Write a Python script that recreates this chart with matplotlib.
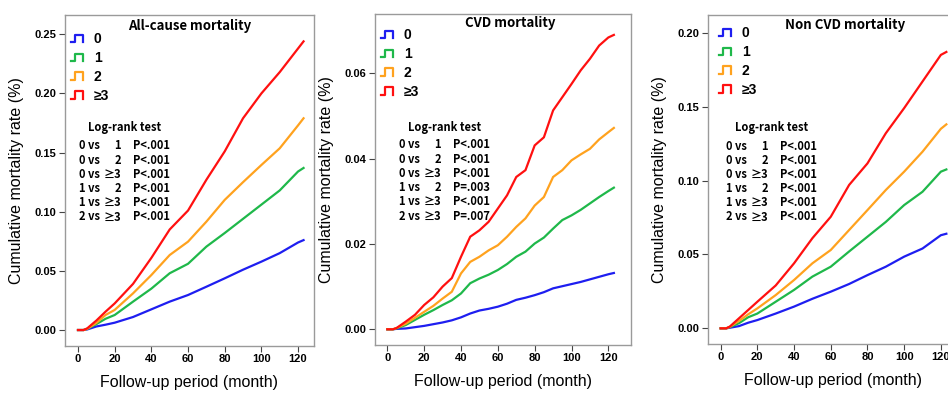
import matplotlib
matplotlib.use("Agg")
import matplotlib.pyplot as plt
from matplotlib.lines import Line2D
from matplotlib.legend_handler import HandlerBase

# ─── data (cumulative mortality by group) ────────────────────────────────────
months = [0, 3, 5, 10, 15, 20, 30, 40, 50, 60, 70, 80, 90, 100, 110, 120, 123]
months_cvd = [0, 3, 5, 10, 15, 20, 25, 30, 35, 40, 45, 50, 55, 60, 65, 70,
              75, 80, 85, 90, 95, 100, 105, 110, 115, 120, 123]

allcause_0 = [0, 0, 0.0005, 0.003, 0.0045, 0.0062, 0.011, 0.0175, 0.024, 0.0296,
              0.0366, 0.0437, 0.051, 0.0578, 0.065, 0.074, 0.076]
allcause_1 = [0, 0, 0.001, 0.005, 0.0095, 0.0127, 0.024, 0.035, 0.048, 0.056,
              0.0705, 0.082, 0.094, 0.106, 0.118, 0.134, 0.137]
allcause_2 = [0, 0, 0.001, 0.006, 0.0127, 0.017, 0.031, 0.0465, 0.0634, 0.0747,
              0.0916, 0.110, 0.125, 0.1395, 0.1536, 0.173, 0.179]
allcause_3 = [0, 0, 0.0014, 0.008, 0.0155, 0.0225, 0.039, 0.061, 0.085, 0.101,
              0.127, 0.151, 0.179, 0.200, 0.218, 0.238, 0.244]

cvd_0 = [0, 0, 0.0001, 0.0002, 0.0005, 0.0008, 0.0012, 0.0016, 0.0021, 0.0028,
         0.0037, 0.0044, 0.0048, 0.0053, 0.006, 0.0069, 0.0074, 0.008, 0.0087,
         0.0096, 0.0101, 0.0106, 0.0111, 0.0117, 0.0123, 0.0129, 0.0132]
cvd_1 = [0, 0, 0.0002, 0.001, 0.0022, 0.0034, 0.0045, 0.0057, 0.0068, 0.0084,
         0.0108, 0.0119, 0.0128, 0.0139, 0.0153, 0.017, 0.0182, 0.0201, 0.0215,
         0.0236, 0.0256, 0.0267, 0.028, 0.0295, 0.031, 0.0324, 0.0332]
cvd_2 = [0, 0, 0.0003, 0.0013, 0.0027, 0.0041, 0.0055, 0.0072, 0.0088, 0.0131,
         0.0158, 0.017, 0.0185, 0.0197, 0.0217, 0.024, 0.026, 0.029, 0.031,
         0.0357, 0.0373, 0.0396, 0.041, 0.0423, 0.0445, 0.0462, 0.0472]
cvd_3 = [0, 0, 0.0003, 0.0018, 0.0034, 0.0057, 0.0075, 0.010, 0.012, 0.017,
         0.0217, 0.0232, 0.0252, 0.0283, 0.0314, 0.0357, 0.0373, 0.0431, 0.045,
         0.0513, 0.0544, 0.0575, 0.0607, 0.0634, 0.0665, 0.0684, 0.069]

noncvd_0 = [0, 0, 0.0004, 0.0015, 0.0038, 0.0056, 0.010, 0.0147, 0.020, 0.0248,
            0.030, 0.036, 0.0417, 0.0485, 0.054, 0.063, 0.064]
noncvd_1 = [0, 0, 0.0008, 0.0035, 0.0075, 0.010, 0.018, 0.026, 0.035, 0.0417,
            0.052, 0.062, 0.072, 0.0834, 0.0924, 0.106, 0.1075]
noncvd_2 = [0, 0, 0.001, 0.005, 0.0095, 0.0135, 0.0225, 0.0327, 0.044, 0.053,
            0.0665, 0.080, 0.0936, 0.106, 0.1195, 0.135, 0.138]
noncvd_3 = [0, 0, 0.0012, 0.0068, 0.0124, 0.018, 0.029, 0.044, 0.061, 0.0755,
            0.097, 0.1116, 0.132, 0.149, 0.167, 0.185, 0.187]

groups = ['0', '1', '2', '≥3']
titles = ['All-cause mortality', 'CVD mortality', 'Non CVD mortality']
yticks_all = [0.00, 0.05, 0.10, 0.15, 0.20, 0.25]
yticks_cvd = [0.00, 0.02, 0.04, 0.06]
yticks_noncvd = [0.00, 0.05, 0.10, 0.15, 0.20]
xticks = [0, 20, 40, 60, 80, 100, 120]

pairs = ['0 vs', '0 vs', '0 vs', '1 vs', '1 vs', '2 vs']
pair_to = ['1', '2', '≥3', '2', '≥3', '≥3']
p_all = ['P<.001'] * 6
p_cvd = ['P<.001', 'P<.001', 'P<.001', 'P=.003', 'P<.001', 'P=.007']
p_noncvd = ['P<.001'] * 6

colors = ['#1e1ef0', '#1fb84a', '#ffa21e', '#ff1010']

# ─── layout (pixels in a 948x394 canvas) ─────────────────────────────────────
W, H = 948, 394
panels = [
    dict(box=(65, 15, 249, 331), xlim=(-7.1, 128.7), ylim=(-0.0135, 0.2663),
         t=months, ys=[allcause_0, allcause_1, allcause_2, allcause_3],
         yticks=yticks_all, title=titles[0], p=p_all,
         leg=(6, 24), ttl=(125, 11), lr=(60, 14)),
    dict(box=(375, 14, 256, 331), xlim=(-6.7, 132.3), ylim=(-0.00368, 0.0739),
         t=months_cvd, ys=[cvd_0, cvd_1, cvd_2, cvd_3],
         yticks=yticks_cvd, title=titles[1], p=p_cvd,
         leg=(6, 21), ttl=(135, 9), lr=(70, 24)),
    dict(box=(708, 15, 249, 329), xlim=(-6.9, 128.8), ylim=(-0.0106, 0.212),
         t=months, ys=[noncvd_0, noncvd_1, noncvd_2, noncvd_3],
         yticks=yticks_noncvd, title=titles[2], p=p_noncvd,
         leg=(11, 18), ttl=(137, 10), lr=(64, 18)),
]


class StepHandler(HandlerBase):
    # SPSS-style little step icon for the legend
    def create_artists(self, legend, orig, xd, yd, width, height, fontsize, trans):
        x0, y0 = -xd, -yd
        xs = [x0, x0 + 0.33 * width, x0 + 0.33 * width, x0 + width, x0 + width]
        ys = [y0 + 0.1 * height, y0 + 0.1 * height, y0 + 0.85 * height,
              y0 + 0.85 * height, y0 + 0.1 * height]
        ln = Line2D(xs, ys, color=orig.get_color(), lw=1.6, transform=trans)
        return [ln]


fig = plt.figure(figsize=(W / 100, H / 100), dpi=100)
lbl_font = 'Liberation Sans'
txt_font = ['Noto Sans CJK KR', 'DejaVu Sans']

for pn in panels:
    l, t, w, h = pn['box']
    ax = fig.add_axes([l / W, (H - t - h) / H, w / W, h / H])
    handles = []
    for ys, c, g in zip(pn['ys'], colors, groups):
        ln, = ax.plot(pn['t'], ys, color=c, lw=1.6, solid_joinstyle='miter', label=g)
        handles.append(ln)

    ax.set_xlim(*pn['xlim'])
    ax.set_ylim(*pn['ylim'])
    ax.set_xticks(xticks)
    ax.set_yticks(pn['yticks'])
    ax.set_yticklabels([f'{v:.2f}' for v in pn['yticks']])
    for s in ax.spines.values():
        s.set_color('#9a9a9a')
        s.set_linewidth(1.0)
    ax.tick_params(direction='out', length=4, width=0.8, color='#444444',
                   labelsize=8, pad=2)
    for lab in ax.get_xticklabels() + ax.get_yticklabels():
        lab.set_fontfamily(lbl_font)
        lab.set_fontweight('bold')
    ax.set_ylabel('Cumulative mortality rate (%)', fontsize=11.5,
                  family=lbl_font, labelpad=8)
    ax.set_xlabel('Follow-up period (month)', fontsize=11.5,
                  family=lbl_font, labelpad=8)

    # helpers: pixel offsets from the axes' top-left corner -> axes fraction
    fx = lambda dx: dx / w
    fy = lambda dy: 1 - dy / h

    ax.text(fx(pn['ttl'][0]), fy(pn['ttl'][1]), pn['title'], transform=ax.transAxes,
            ha='center', va='center', fontsize=9.5, fontweight='bold', family=txt_font)

    lx, ly = pn['leg']
    ax.legend(handles=handles, loc='upper left',
              bbox_to_anchor=(fx(lx), fy(ly - 7)), frameon=False,
              handler_map={Line2D: StepHandler()}, handlelength=0.85,
              handleheight=0.7, handletextpad=0.8, labelspacing=0.35,
              borderpad=0, borderaxespad=0,
              prop=dict(family=[lbl_font, 'DejaVu Sans'], weight='bold', size=10))

    cx, x_vs = pn['lr']
    ax.text(fx(cx), fy(113), 'Log-rank test', transform=ax.transAxes,
            ha='center', va='center', fontsize=8, fontweight='bold', family=txt_font)
    for i in range(6):
        yy = fy(131 + 14.2 * i)
        ax.text(fx(x_vs), yy, pairs[i], transform=ax.transAxes, ha='left',
                va='center', fontsize=8, fontweight='bold', family=txt_font)
        ax.text(fx(x_vs + 42), yy, pair_to[i], transform=ax.transAxes, ha='right',
                va='center', fontsize=8, fontweight='bold', family=txt_font)
        ax.text(fx(x_vs + 54), yy, pn['p'][i], transform=ax.transAxes, ha='left',
                va='center', fontsize=8, fontweight='bold', family=txt_font)

fig.savefig('out.png', dpi=100)
